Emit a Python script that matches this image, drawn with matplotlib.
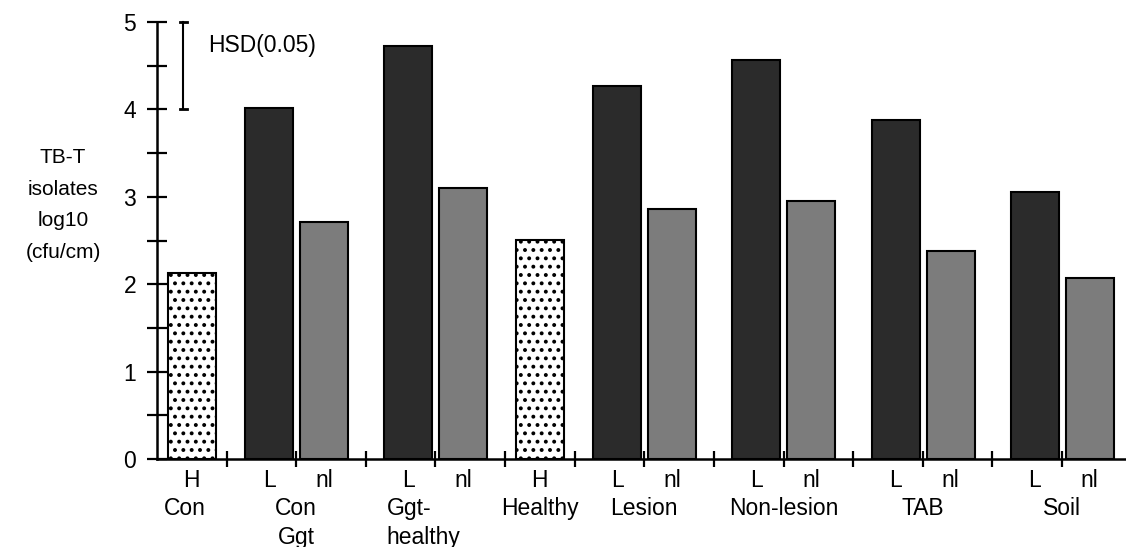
import numpy as np
import matplotlib
matplotlib.use("Agg")
import matplotlib.pyplot as plt

plt.rcParams['font.family'] = ['Liberation Sans', 'DejaVu Sans']
plt.rcParams['hatch.linewidth'] = 1.6

# data
groups = ['Con', 'Con\nGgt', 'Ggt-\nhealthy', 'Healthy', 'Lesion', 'Non-lesion', 'TAB', 'Soil']
bar_group = [0, 1, 1, 2, 2, 3, 4, 4, 5, 5, 6, 6, 7, 7]
bar_kind = ['H', 'L', 'nl', 'L', 'nl', 'H', 'L', 'nl', 'L', 'nl', 'L', 'nl', 'L', 'nl']
values = [2.13, 4.02, 2.71, 4.72, 3.10, 2.51, 4.27, 2.86, 4.57, 2.95, 3.88, 2.38, 3.05, 2.07]
hsd = (4.0, 5.0)

# styles per bar kind
offset = {'H': 0.5, 'L': 0.61, 'nl': 0.40}
face = {'H': 'white', 'L': '#2b2b2b', 'nl': '#7c7c7c'}
hatch = {'H': '..', 'L': None, 'nl': None}
fs = 16.5

fig = plt.figure(figsize=(11.26, 5.47), dpi=100)
ax = fig.add_axes([157 / 1126, 88 / 547, 969 / 1126, 437 / 547])

for i, (v, k) in enumerate(zip(values, bar_kind)):
    ax.bar(i + offset[k], v, width=0.69, color=face[k], hatch=hatch[k],
           edgecolor='black', linewidth=1.5, zorder=2)
    ax.text(i + offset[k], -0.25, k, ha='center', va='center', fontsize=fs,
            clip_on=False)

# group labels below
for g, name in enumerate(groups):
    slots = [i for i, bg in enumerate(bar_group) if bg == g]
    x = np.mean(slots) + 0.5
    if g == 0:
        x = 0.4
    if name.startswith('Ggt'):
        ax.text(x - 0.7, -0.44, name, ha='left', va='top', fontsize=fs,
                linespacing=1.3, clip_on=False)
    else:
        ax.text(x, -0.44, name, ha='center', va='top', fontsize=fs,
                linespacing=1.3, clip_on=False)

# HSD bar
ax.plot([0.38, 0.38], hsd, color='black', lw=1.5, clip_on=False, zorder=3)
for yy in hsd:
    ax.plot([0.33, 0.43], [yy, yy], color='black', lw=2, clip_on=False, zorder=3)
ax.text(0.73, 4.73, 'HSD(0.05)', ha='left', va='center', fontsize=fs)

ax.set_xlim(0, 13.92)
ax.set_ylim(0, 5)
for s in ['top', 'right']:
    ax.spines[s].set_visible(False)
ax.spines['left'].set_linewidth(1.8)
ax.spines['bottom'].set_linewidth(1.8)
ax.spines['left'].set_bounds(0, 5)

ax.set_yticks(np.arange(0, 5.1, 1))
ax.set_yticks(np.arange(0.5, 5, 1), minor=True)
ax.tick_params(axis='y', which='both', direction='inout', length=14, width=1.6,
               labelsize=fs, pad=8)
ax.set_xticks(np.arange(1, 14))
ax.set_xticklabels([])
ax.tick_params(axis='x', direction='inout', length=12, width=1.6)

fig.text(63 / 1126, 1 - 205 / 547, 'TB-T\nisolates\nlog10\n(cfu/cm)', ha='center',
         va='center', fontsize=15, linespacing=1.85)

fig.savefig('out.png', dpi=100)
